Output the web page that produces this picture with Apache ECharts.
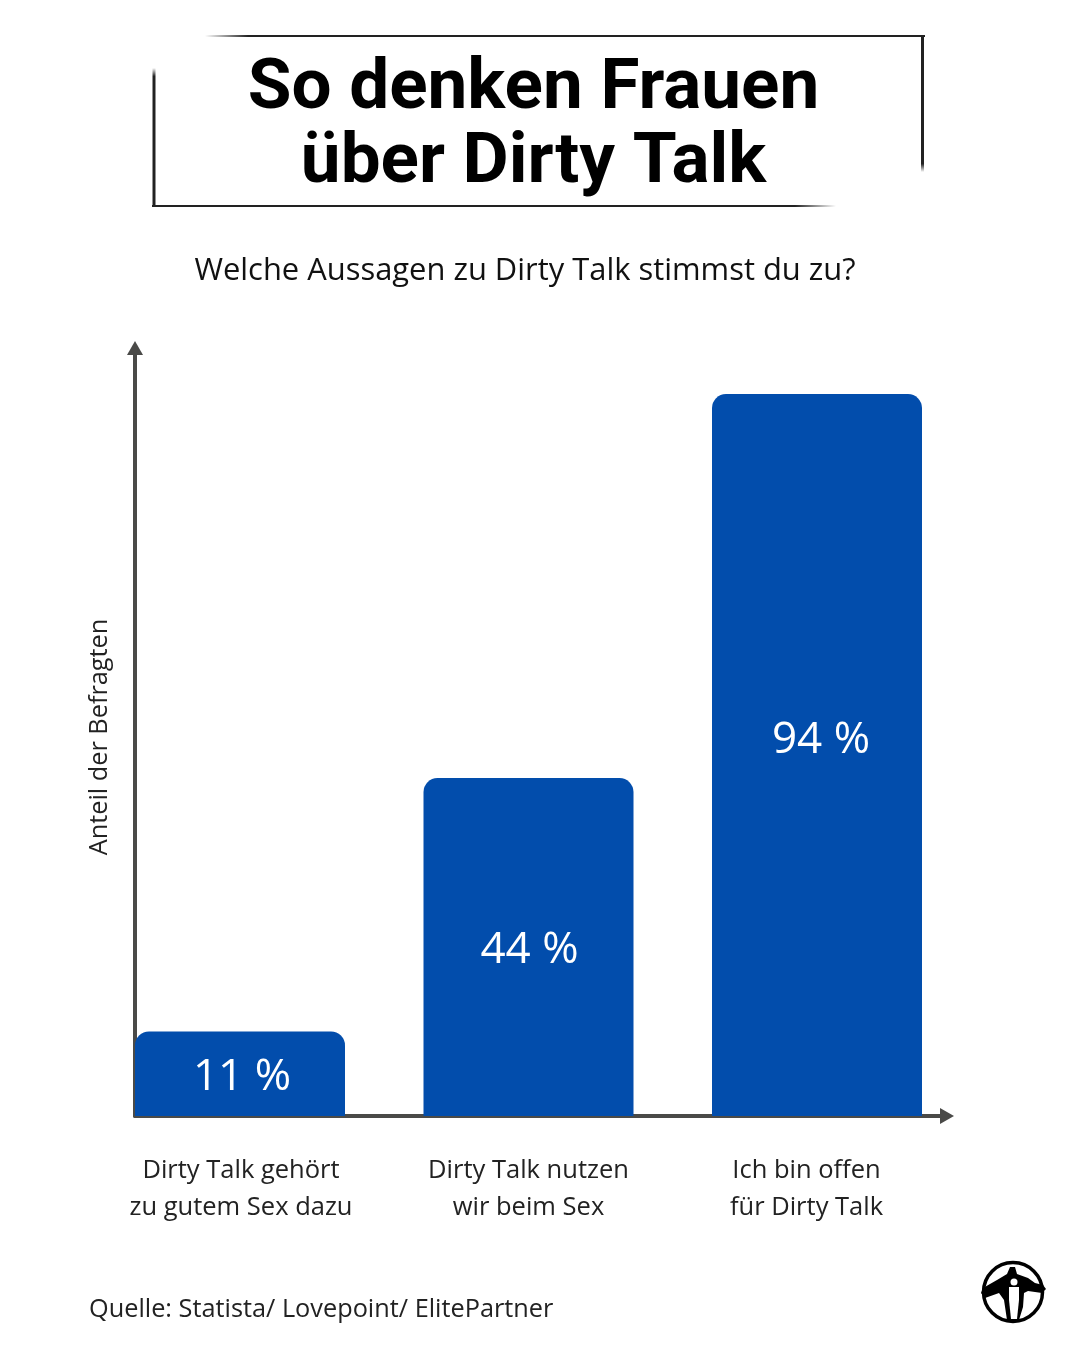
<!doctype html>
<html>
<head>
<meta charset="utf-8">
<title>So denken Frauen über Dirty Talk</title>
<script type="text/javascript" src="https://cdn.jsdelivr.net/npm/echarts@6/dist/echarts.min.js"></script>
</head>
<body style="margin:0;padding:0;background:#fff">
<div id="tb" style="width:1080px;height:1353px;"></div>
<script>
var categories = ['Dirty Talk gehört\nzu gutem Sex dazu', 'Dirty Talk nutzen\nwir beim Sex', 'Ich bin offen\nfür Dirty Talk'];
var shares = [11, 44, 94];
var labelOffsets = [[2, 4], [1, 3], [4, -15]];

var bodyFont = '"Open Sans", sans-serif';
var axisColor = '#4a4a48';
var ink = '#222222';

// fading line used for the frame around the headline
function fadeLine(x1, y1, x2, y2, w) {
    var vertical = x1 === x2;
    return {
        type: 'rect',
        shape: vertical ? {x: x1 - w / 2, y: Math.min(y1, y2), width: w, height: Math.abs(y2 - y1)}
                        : {x: Math.min(x1, x2), y: y1 - w / 2, width: Math.abs(x2 - x1), height: w},
        style: {
            fill: new echarts.graphic.LinearGradient(
                vertical ? 0 : (x1 < x2 ? 0 : 1), vertical ? (y1 < y2 ? 0 : 1) : 0,
                vertical ? 0 : (x1 < x2 ? 1 : 0), vertical ? (y1 < y2 ? 1 : 0) : 0,
                [{offset: 0, color: '#222'}, {offset: 0.94, color: '#222'}, {offset: 1, color: 'rgba(34,34,34,0)'}])
        }
    };
}

var chart = echarts.init(document.getElementById('tb'), null, {renderer: 'canvas'});

chart.setOption({
    animation: false,
    backgroundColor: '#ffffff',
    title: [
        {
            text: 'So denken Frauen\nüber Dirty Talk', left: 528.5, top: 48, textAlign: 'center',
            textStyle: {fontFamily: 'Roboto, "Liberation Sans", sans-serif', fontWeight: 'bold', fontSize: 71, lineHeight: 74, color: '#000'}
        },
        {
            text: 'Welche Aussagen zu Dirty Talk stimmst du zu?', left: 520, top: 246, textAlign: 'center',
            textStyle: {fontFamily: bodyFont, fontWeight: 'normal', fontSize: 30.9, lineHeight: 40, color: '#111'}
        },
        {
            text: 'Quelle: Statista/ Lovepoint/ ElitePartner', left: 84, top: 1287,
            textStyle: {fontFamily: bodyFont, fontWeight: 'normal', fontSize: 25.3, lineHeight: 36, color: ink}
        }
    ],
    grid: [
        {left: 95.75, top: 348, width: 865.5, height: 768},
        {left: 135, top: 348, width: 812, height: 768}
    ],
    xAxis: [
        {
            type: 'category', gridIndex: 0, data: categories,
            axisLine: {show: false}, axisTick: {show: false},
            axisLabel: {
                interval: 0, margin: 36,
                formatter: function (v, i) { return '{c' + i + '|' + v + '}'; },
                rich: {
                    c0: {fontFamily: bodyFont, fontSize: 25.5, lineHeight: 37, color: ink, padding: [0, 0, 0, 2]},
                    c1: {fontFamily: bodyFont, fontSize: 25.5, lineHeight: 37, color: ink},
                    c2: {fontFamily: bodyFont, fontSize: 25.5, lineHeight: 37, color: ink, padding: [0, 21, 0, 0]}
                }
            }
        },
        {
            type: 'value', gridIndex: 1, min: 0, max: 1, splitLine: {show: false},
            axisTick: {show: false}, axisLabel: {show: false},
            axisLine: {show: true, symbol: ['none', 'triangle'], symbolSize: [16, 14], lineStyle: {color: axisColor, width: 4}}
        }
    ],
    yAxis: [
        {
            type: 'value', gridIndex: 0, min: 0, max: 100, splitLine: {show: false},
            axisLine: {show: false}, axisTick: {show: false}, axisLabel: {show: false},
            name: 'Anteil der Befragten', nameLocation: 'middle', nameGap: -27, nameRotate: 90,
            nameTextStyle: {fontFamily: bodyFont, fontSize: 25.3, color: ink, padding: [0, 10, 10, 0]}
        },
        {
            type: 'value', gridIndex: 1, min: 0, max: 1, splitLine: {show: false},
            axisTick: {show: false}, axisLabel: {show: false},
            axisLine: {show: true, symbol: ['none', 'triangle'], symbolSize: [16, 14], lineStyle: {color: axisColor, width: 4}}
        }
    ],
    series: [
        {
            type: 'bar', xAxisIndex: 0, yAxisIndex: 0, barWidth: 210,
            itemStyle: {color: '#024dac', borderRadius: [14, 14, 0, 0]},
            data: shares.map(function (v, i) {
                return {value: v, label: {offset: labelOffsets[i]}};
            }),
            label: {
                show: true, position: 'inside', color: '#fff',
                fontFamily: bodyFont, fontSize: 44,
                formatter: function (p) { return p.value + ' %'; }
            }
        }
    ],
    graphic: [
        fadeLine(925, 36, 205, 36, 2),
        fadeLine(922.5, 35, 922.5, 172, 3),
        fadeLine(154, 207, 154, 68, 3),
        fadeLine(152, 206, 836, 206, 2),
        // logo
        {type: 'circle', shape: {cx: 1013, cy: 1292, r: 29.5}, style: {fill: 'none', stroke: '#000', lineWidth: 3.5}},
        {type: 'polygon', shape: {points: [[1010, 1267], [1015, 1267], [1017, 1274], [1028, 1278], [1035, 1283], [1043, 1285], [1046, 1289], [1042, 1293], [1028, 1291], [1024, 1293], [1023, 1307], [1019, 1320], [1007, 1320], [1004, 1300], [999, 1293], [985, 1298], [981, 1293], [983, 1288], [997, 1280], [1007, 1274]]}, style: {fill: '#000'}},
        {type: 'circle', shape: {cx: 1014, cy: 1282, r: 3.5}, style: {fill: '#fff'}},
        {type: 'polygon', shape: {points: [[1009, 1287], [1019, 1287], [1019, 1300], [1017, 1319], [1011, 1319], [1009, 1300]]}, style: {fill: '#fff'}}
    ]
});
</script>
</body>
</html>
